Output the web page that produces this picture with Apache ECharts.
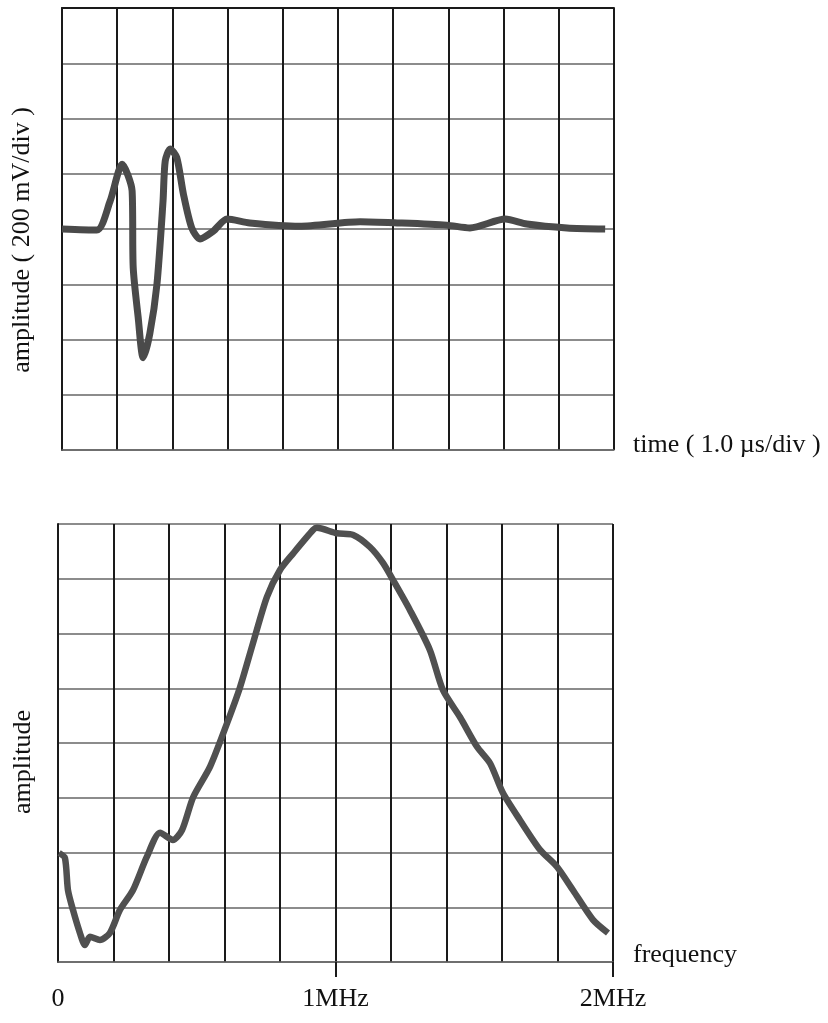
<!DOCTYPE html>
<html><head><meta charset="utf-8">
<script src="https://cdn.jsdelivr.net/npm/echarts@6/dist/echarts.min.js"></script>
<style>html,body{margin:0;padding:0;background:#fff}#c{width:828px;height:1023px}</style>
</head><body><div id="c"></div>
<script>
// Top trace: time in divisions (1.0 µs/div), amplitude in divisions (200 mV/div)
const timeDiv = [0,0.63,0.87,1.09,1.27,1.29,1.38,1.47,1.59,1.72,1.83,1.87,1.96,2.08,2.2,2.35,2.5,2.74,2.99,3.4,4.3,5.4,6.07,6.97,7.39,8.03,8.42,9.15,9.84];
const ampDiv  = [0,-0.02,0.5,1.17,0.69,-0.7,-1.6,-2.33,-1.9,-1.0,0.5,1.23,1.45,1.29,0.63,0.02,-0.18,-0.04,0.18,0.11,0.05,0.13,0.11,0.07,0.02,0.18,0.09,0.02,0];
// Bottom spectrum: frequency in MHz, amplitude in divisions
const freqMHz = [0.004,0.025,0.036,0.054,0.079,0.097,0.115,0.151,0.187,0.223,0.27,0.32,0.368,0.414,0.447,0.487,0.548,0.609,0.656,0.703,0.753,0.8,0.847,0.919,0.933,1.005,1.064,1.124,1.171,1.207,1.268,1.34,1.387,1.449,1.51,1.557,1.603,1.665,1.737,1.798,1.856,1.928,1.982];
const specAmp = [1.99,1.9,1.31,0.95,0.53,0.31,0.46,0.4,0.53,0.95,1.31,1.92,2.36,2.23,2.41,3.01,3.57,4.36,5.02,5.83,6.67,7.16,7.46,7.89,7.93,7.83,7.8,7.58,7.29,6.98,6.43,5.7,4.97,4.47,3.93,3.63,3.09,2.59,2.05,1.74,1.31,0.77,0.53];
const freqTickLabels = {0:'0',1:'1MHz',2:'2MHz'};

const font = 'Liberation Serif';
const dark = '#1a1a1a';
const vGrid = {show:true,lineStyle:{color:dark,width:2}};
const hGrid = {show:true,lineStyle:{color:'#666',width:1.5}};
const txt = {fontFamily:font,fontSize:26,color:'#111'};
const hidden = {axisTick:{show:false},axisLabel:{show:false},splitLine:{show:false}};

const chart = echarts.init(document.getElementById('c'));
chart.setOption({
  animation:false,
  backgroundColor:'#fff',
  grid:[
    {left:62,top:8,width:552,height:442},
    {left:58,top:524,width:555,height:438}
  ],
  xAxis:[
    {gridIndex:0,type:'value',min:0,max:10,interval:1,position:'bottom',
     axisLine:{show:true,onZero:false,lineStyle:{color:'#666',width:1.5}},
     axisTick:{show:false},axisLabel:{show:false},splitLine:vGrid,
     name:'time ( 1.0 µs/div )',nameLocation:'end',nameGap:19,
     nameTextStyle:Object.assign({},txt,{verticalAlign:'bottom',lineHeight:10})},
    {gridIndex:0,type:'value',min:0,max:10,position:'top',
     axisLine:{show:true,onZero:false,lineStyle:{color:dark,width:2}},...hidden},
    {gridIndex:1,type:'value',min:0,max:2,interval:0.2,position:'bottom',
     axisLine:{show:true,onZero:false,lineStyle:{color:'#666',width:1.5}},
     axisTick:{show:false},axisLabel:{show:false},splitLine:vGrid,
     name:'frequency',nameLocation:'end',nameGap:20,
     nameTextStyle:Object.assign({},txt,{verticalAlign:'bottom',lineHeight:14})},
    {gridIndex:1,type:'value',min:0,max:2,interval:1,position:'bottom',offset:0,
     axisLine:{show:false,onZero:false},
     axisTick:{show:true,length:15,customValues:[1,2],lineStyle:{color:dark,width:2}},
     axisLabel:{show:true,customValues:[0,1,2],margin:24,formatter:v=>freqTickLabels[Math.round(v)],
       fontFamily:font,fontSize:26,color:'#111'},
     splitLine:{show:false}}
  ],
  yAxis:[
    {gridIndex:0,type:'value',min:-4,max:4,interval:1,
     axisLine:{show:true,onZero:false,lineStyle:{color:dark,width:2}},
     axisTick:{show:false},axisLabel:{show:false},splitLine:hGrid,
     name:'amplitude ( 200 mV/div )',nameLocation:'middle',nameRotate:90,nameGap:27,
     nameTextStyle:Object.assign({},txt,{padding:[0,22,0,0]})},
    {gridIndex:1,type:'value',min:0,max:8,interval:1,
     axisLine:{show:true,onZero:false,lineStyle:{color:dark,width:2}},
     axisTick:{show:false},axisLabel:{show:false},splitLine:hGrid,
     name:'amplitude',nameLocation:'middle',nameRotate:90,nameGap:22,
     nameTextStyle:Object.assign({},txt,{padding:[0,38,0,0]})}
  ],
  series:[
    {type:'line',xAxisIndex:0,yAxisIndex:0,showSymbol:false,smooth:0.25,
     data:timeDiv.map((t,i)=>[t,ampDiv[i]]),
     lineStyle:{color:'#4a4a4a',width:7}},
    {type:'line',xAxisIndex:2,yAxisIndex:1,showSymbol:false,smooth:0.25,
     data:freqMHz.map((f,i)=>[f,specAmp[i]]),
     lineStyle:{color:'#505050',width:6.5}}
  ]
});
</script></body></html>
